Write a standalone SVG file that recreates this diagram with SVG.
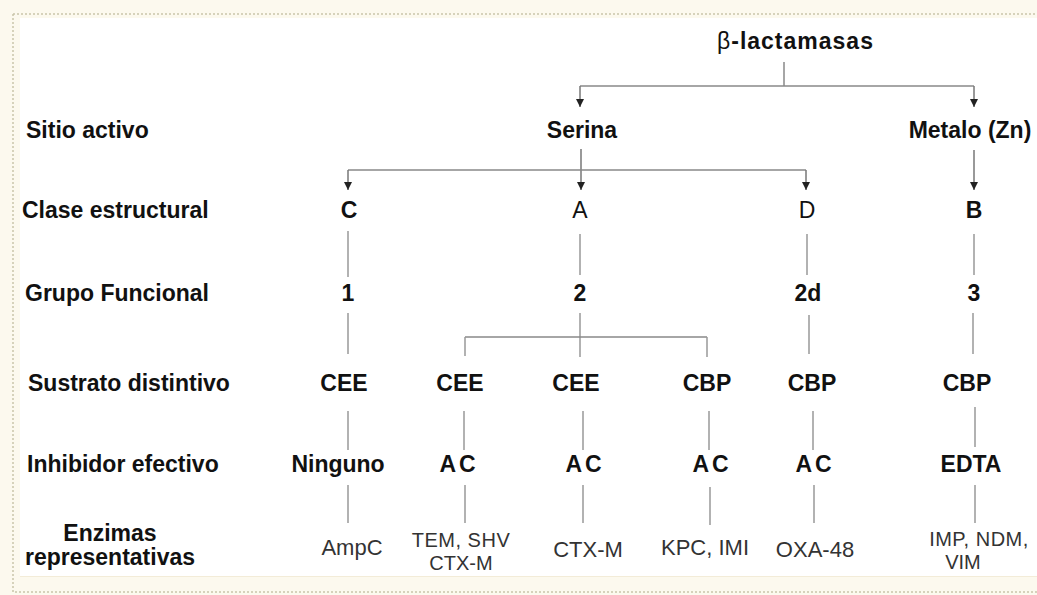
<svg xmlns="http://www.w3.org/2000/svg" width="1037" height="595" viewBox="0 0 1037 595">
<style>
.lbl{font-family:"Liberation Sans",Arial,sans-serif;font-size:23px;font-weight:bold;fill:#111}
.val{font-family:"Liberation Sans",Arial,sans-serif;font-size:23px;font-weight:bold;fill:#111;text-anchor:middle}
.reg{font-family:"Liberation Sans",Arial,sans-serif;font-size:23px;font-weight:normal;fill:#111;text-anchor:middle}
.enz{font-family:"Liberation Sans",Arial,sans-serif;font-size:22px;font-weight:normal;fill:#333;text-anchor:middle}
.enz2{font-family:"Liberation Sans",Arial,sans-serif;font-size:20px;font-weight:normal;fill:#333;text-anchor:middle}
.ln{stroke:#999;stroke-width:1.5;fill:none}
.hl{stroke:#888;stroke-width:1.5;fill:none}
.ar{stroke:#777;stroke-width:1.5;fill:none;marker-end:url(#arr)}
</style>
<defs>
<marker id="arr" viewBox="0 0 8 8" refX="8" refY="4" markerWidth="8" markerHeight="8" markerUnits="userSpaceOnUse" orient="auto">
<path d="M0,0 L8,4 L0,8 z" fill="#222"/>
</marker>
</defs>
<rect x="0" y="0" width="1037" height="595" fill="#fcf9ee"/>
<rect x="20" y="18" width="1017" height="558" fill="#ffffff"/>
<path d="M20,576.5 H1037" stroke="#f3ecd8" stroke-width="1"/>
<path d="M13,14 H1037 M13,14 V592 H1037" stroke="#c9c5aa" stroke-width="1.5" stroke-dasharray="2,2" fill="none"/>

<g id="connectors">
<path class="hl" d="M784,62 V86"/>
<path class="hl" d="M580,86 H974"/>
<path class="ar" d="M580,86 V107"/>
<path class="ar" d="M974,86 V107"/>
<path class="ar" d="M581,149 V190"/>
<path class="hl" d="M348,170 H806"/>
<path class="ar" d="M348,170 V190"/>
<path class="ar" d="M806,170 V190"/>
<path class="ar" d="M974,150 V190"/>
<path class="ln" d="M348,231 V277 M580,234 V275 M807,234 V275 M974,234 V275"/>
<path class="ln" d="M348,313 V354 M580,313 V357 M809,315 V354 M973,313 V354"/>
<path class="hl" d="M465,337 H707"/>
<path class="ln" d="M465,337 V356 M707,337 V357"/>
<path class="ln" d="M348,411 V450 M464,411 V450 M583,411 V450 M709,411 V450 M813,411 V450 M975,407 V447"/>
<path class="ln" d="M348,485 V523 M465,485 V523 M583,485 V523 M710,487 V525 M814,485 V523 M975,485 V523"/>
</g>

<g id="row-labels">
<text class="lbl" x="26" y="138">Sitio activo</text>
<text class="lbl" x="22" y="218">Clase estructural</text>
<text class="lbl" x="25" y="301">Grupo Funcional</text>
<text class="lbl" x="28" y="391">Sustrato distintivo</text>
<text class="lbl" x="27" y="472">Inhibidor efectivo</text>
<text class="lbl" x="110" y="541" text-anchor="middle">Enzimas</text>
<text class="lbl" x="110" y="565" text-anchor="middle">representativas</text>
</g>

<g id="root"><text class="lbl" x="717" y="49" letter-spacing="1"><tspan font-weight="normal">β</tspan>-lactamasas</text></g>
<g id="serina"><text class="val" x="582" y="138">Serina</text></g>
<g id="metalo"><text class="val" x="970" y="138">Metalo (Zn)</text></g>

<g id="clase-C"><text class="val" x="349" y="218">C</text></g>
<g id="clase-A"><text class="reg" x="580" y="218">A</text></g>
<g id="clase-D"><text class="reg" x="807" y="218">D</text></g>
<g id="clase-B"><text class="val" x="974" y="218">B</text></g>

<g id="grupo-1"><text class="val" x="348" y="301">1</text></g>
<g id="grupo-2"><text class="val" x="580" y="301">2</text></g>
<g id="grupo-2d"><text class="val" x="808" y="301">2d</text></g>
<g id="grupo-3"><text class="val" x="974" y="301">3</text></g>

<g id="sust-1"><text class="val" x="344" y="391">CEE</text></g>
<g id="sust-2"><text class="val" x="460" y="391">CEE</text></g>
<g id="sust-3"><text class="val" x="576" y="391">CEE</text></g>
<g id="sust-4"><text class="val" x="707" y="391">CBP</text></g>
<g id="sust-5"><text class="val" x="812" y="391">CBP</text></g>
<g id="sust-6"><text class="val" x="967" y="391">CBP</text></g>

<g id="inh-1"><text class="val" x="338" y="472">Ninguno</text></g>
<g id="inh-2"><text class="val" x="459" y="472" letter-spacing="3">AC</text></g>
<g id="inh-3"><text class="val" x="585" y="472" letter-spacing="3">AC</text></g>
<g id="inh-4"><text class="val" x="712" y="472" letter-spacing="3">AC</text></g>
<g id="inh-5"><text class="val" x="815" y="472" letter-spacing="3">AC</text></g>
<g id="inh-6"><text class="val" x="971" y="472">EDTA</text></g>

<g id="enz-1"><text class="enz" x="352" y="555">AmpC</text></g>
<g id="enz-2"><text class="enz2" x="461" y="547" letter-spacing="0.5">TEM, SHV</text><text class="enz2" x="461" y="570">CTX-M</text></g>
<g id="enz-3"><text class="enz" x="588" y="557">CTX-M</text></g>
<g id="enz-4"><text class="enz" x="705" y="555">KPC, IMI</text></g>
<g id="enz-5"><text class="enz" x="815" y="557">OXA-48</text></g>
<g id="enz-6"><text class="enz2" x="979" y="546" letter-spacing="0.5">IMP, NDM,</text><text class="enz2" x="963" y="569">VIM</text></g>
</svg>
